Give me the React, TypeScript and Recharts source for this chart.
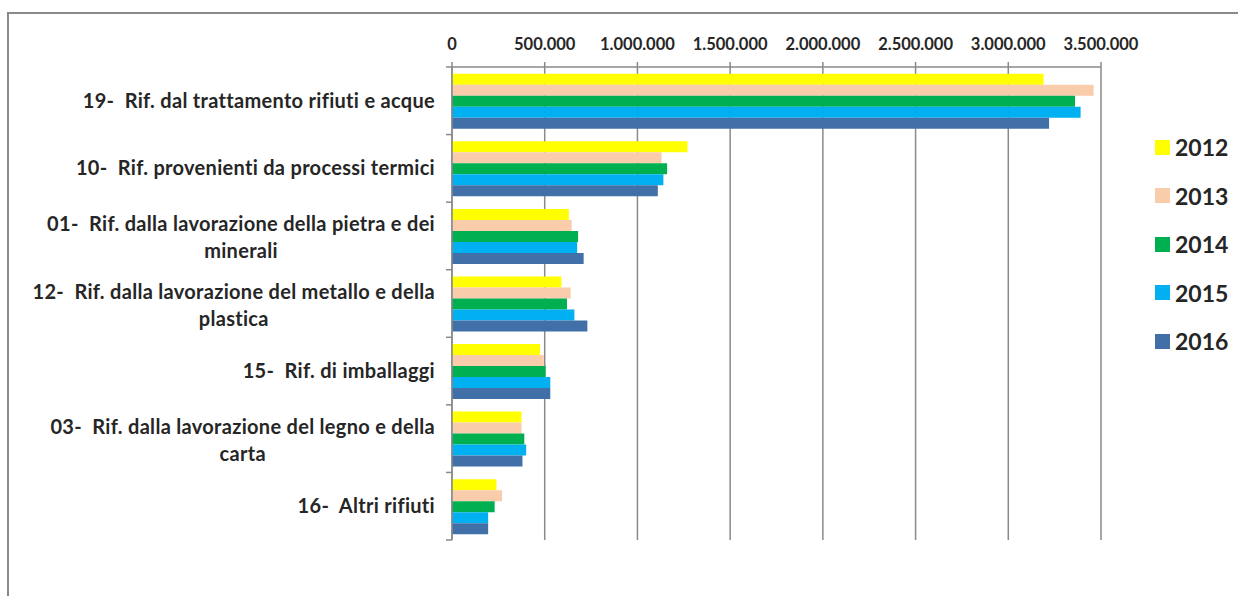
import { BarChart, Bar, XAxis, YAxis, CartesianGrid, Legend } from "recharts"

// Category labels (top to bottom), "\n" marks a wrapped line
const categories = [
  "19-  Rif. dal trattamento rifiuti e acque",
  "10-  Rif. provenienti da processi termici",
  "01-  Rif. dalla lavorazione della pietra e dei\nminerali",
  "12-  Rif. dalla lavorazione del metallo e della\nplastica",
  "15-  Rif. di imballaggi",
  "03-  Rif. dalla lavorazione del legno e della\ncarta",
  "16-  Altri rifiuti",
]

// Values per year, same order as categories
const y2012 = [3190000, 1270000, 630000, 590000, 475000, 375000, 240000]
const y2013 = [3460000, 1130000, 645000, 640000, 495000, 375000, 270000]
const y2014 = [3360000, 1160000, 680000, 620000, 505000, 390000, 230000]
const y2015 = [3390000, 1140000, 675000, 660000, 530000, 400000, 195000]
const y2016 = [3220000, 1110000, 710000, 730000, 530000, 380000, 195000]

const years = ["2012", "2013", "2014", "2015", "2016"]
const xTicks = [0, 500000, 1000000, 1500000, 2000000, 2500000, 3000000, 3500000]

const COLORS = ["#FFFF00", "#F9CCAB", "#00B050", "#00B0F0", "#4170A8"]

const data = categories.map((name, i) => ({
  name,
  "2012": y2012[i],
  "2013": y2013[i],
  "2014": y2014[i],
  "2015": y2015[i],
  "2016": y2016[i],
}))

// chart geometry
const W = 1238
const H = 596
const PLOT_LEFT = 452
const PLOT_TOP = 67
const PLOT_BOTTOM = 540
const BAND = (PLOT_BOTTOM - PLOT_TOP) / categories.length

const LABEL_SIZE = 20
const LABEL_SPACING = 0.3
const TEXT = "#262626"
const AXIS = "#8a8a8a"

const fmt = (v: number) => v.toLocaleString("de-DE")

function measure(text: string) {
  try {
    const ctx = document.createElement("canvas").getContext("2d")
    if (ctx) {
      ctx.font = `bold ${LABEL_SIZE}px Lato`
      return ctx.measureText(text).width + text.length * LABEL_SPACING
    }
  } catch (e) {}
  return text.length * 9
}

const labelStyle = {
  fontFamily: "Lato",
  fontWeight: "bold" as const,
  fontSize: LABEL_SIZE,
  letterSpacing: LABEL_SPACING,
  whiteSpace: "pre" as const,
}

function CategoryTick(props: any) {
  const { y, payload, index } = props
  const lines = String(payload.value).split("\n")
  const right = PLOT_LEFT - 17
  const w = measure(lines[0])
  const top = y - BAND / 2
  return (
    <g>
      <line x1={PLOT_LEFT - 6} x2={PLOT_LEFT} y1={top} y2={top} stroke={AXIS} strokeWidth={1.5} />
      {index === categories.length - 1 && (
        <line x1={PLOT_LEFT - 6} x2={PLOT_LEFT} y1={y + BAND / 2} y2={y + BAND / 2} stroke={AXIS} strokeWidth={1.5} />
      )}
      {lines.length === 1 ? (
        <text x={right} y={y} dy="0.35em" textAnchor="end" fill={TEXT} style={labelStyle}>{lines[0]}</text>
      ) : (
        lines.map((ln, k) => (
          <text key={k} x={right - w / 2} y={y - 12 + k * 27} dy="0.35em" textAnchor="middle" fill={TEXT}
            style={labelStyle}>{ln}</text>
        ))
      )}
    </g>
  )
}

function YearLegend(props: any) {
  const items = props.payload || []
  return (
    <div>
      {items.map((it: any) => (
        <div key={it.value} style={{ display: "flex", alignItems: "center", height: 48.5 }}>
          <span style={{ width: 15, height: 15, background: it.color, display: "inline-block", marginRight: 5 }} />
          <span style={{ font: "bold 23px Lato", color: TEXT }}>{it.value}</span>
        </div>
      ))}
    </div>
  )
}

export default function App() {
  return (
    <div style={{ position: "absolute", left: 0, top: 0, width: W, height: H, background: "#fff", overflow: "hidden" }}>
      <div style={{ position: "absolute", left: 7, top: 12, width: W, height: H, borderLeft: `2px solid ${AXIS}`, borderTop: `2px solid ${AXIS}` }} />
      <div style={{ position: "absolute", left: 0, top: 0 }}>
        <BarChart
          width={W}
          height={H}
          data={data}
          layout="vertical"
          margin={{ top: PLOT_TOP - 30, right: W - 1101, bottom: H - PLOT_BOTTOM, left: PLOT_LEFT - 440 }}
          barCategoryGap="10%"
          barGap={0}
        >
          <CartesianGrid horizontal={false} stroke={AXIS} strokeWidth={1.5} />
          <XAxis
            type="number"
            orientation="top"
            height={30}
            domain={[0, 3500000]}
            ticks={xTicks}
            tickFormatter={fmt}
            interval={0}
            stroke={AXIS}
            strokeWidth={1.5}
            tickSize={5}
            tickMargin={12}
            tick={{ fill: TEXT, fontFamily: "Lato", fontWeight: "bold", fontSize: 16.5 }}
          />
          <YAxis
            type="category"
            dataKey="name"
            width={440}
            stroke={AXIS}
            strokeWidth={1.5}
            tickLine={false}
            interval={0}
            tick={<CategoryTick />}
          />
          <Legend
            layout="vertical"
            align="center"
            verticalAlign="middle"
            content={<YearLegend />}
            wrapperStyle={{ position: "absolute", left: 1155, top: 123, width: 80 }}
          />
          {years.map((yr, i) => (
            <Bar key={yr} dataKey={yr} name={yr} fill={COLORS[i]} isAnimationActive={false} />
          ))}
        </BarChart>
      </div>
    </div>
  )
}
